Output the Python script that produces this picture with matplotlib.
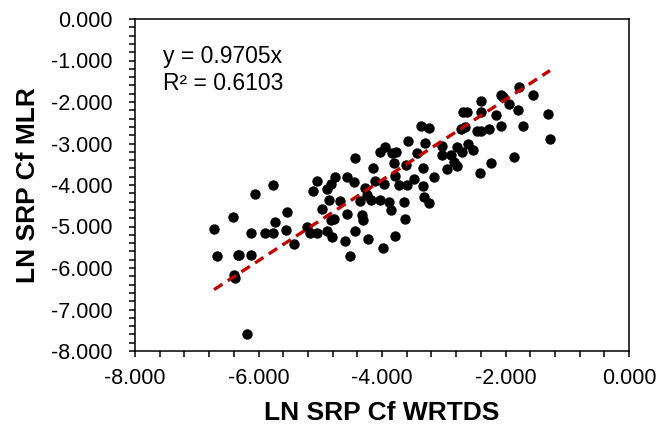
import matplotlib.pyplot as plt
from matplotlib.ticker import MultipleLocator, FormatStrFormatter

plt.rcParams['font.family'] = ['Liberation Sans', 'DejaVu Sans']

# LN SRP Cf from WRTDS (x) vs MLR (y)
wrtds = [-6.72, -6.67, -6.41, -6.34, -6.31, -6.39, -6.38, -6.19, -6.12, -6.12,
         -6.05, -5.90, -5.77, -5.76, -5.74, -5.54, -5.55, -5.43, -5.22, -5.17,
         -5.11, -5.05, -5.05, -4.97, -4.89, -4.89, -4.86, -4.83, -4.83, -4.81,
         -4.76, -4.77, -4.68, -4.60, -4.57, -4.56, -4.52, -4.45, -4.43, -4.43,
         -4.36, -4.33, -4.30, -4.27, -4.24, -4.23, -4.18, -4.14, -4.12, -4.04,
         -4.03, -3.99, -3.96, -3.95, -3.89, -3.86, -3.84, -3.80, -3.79, -3.79,
         -3.77, -3.73, -3.64, -3.62, -3.60, -3.61, -3.58, -3.48, -3.43, -3.37,
         -3.34, -3.34, -3.32, -3.30, -3.24, -3.24, -3.15, -3.03, -3.03, -2.94,
         -2.89, -2.83, -2.78, -2.78, -2.72, -2.70, -2.69, -2.63, -2.65, -2.61,
         -2.53, -2.46, -2.42, -2.40, -2.40, -2.40, -2.27, -2.23, -2.16, -2.07,
         -2.07, -2.04, -1.95, -1.86, -1.80, -1.78, -1.72, -1.56, -1.31, -1.28]
mlr = [-5.07, -5.71, -4.77, -5.68, -5.68, -6.16, -6.24, -7.58, -5.16, -5.69,
       -4.21, -5.16, -4.00, -5.16, -4.90, -4.64, -5.08, -5.43, -5.02, -5.15,
       -4.15, -3.90, -5.15, -4.59, -4.10, -5.12, -4.35, -3.97, -4.85, -5.26,
       -3.81, -4.83, -4.39, -5.36, -4.69, -3.80, -5.71, -3.92, -3.35, -5.11,
       -4.39, -4.73, -4.85, -4.07, -4.23, -5.30, -4.37, -3.60, -3.91, -4.36,
       -3.20, -5.52, -3.97, -3.08, -4.40, -4.61, -3.24, -3.48, -3.79, -5.23,
       -3.20, -3.99, -4.42, -4.82, -3.99, -3.52, -2.93, -3.85, -3.23, -2.59,
       -4.02, -3.59, -4.29, -2.98, -4.43, -2.62, -3.81, -3.05, -3.28, -3.61,
       -3.27, -3.45, -3.08, -3.54, -2.65, -3.21, -2.23, -2.23, -2.61, -3.00,
       -3.15, -2.69, -3.72, -1.98, -2.23, -2.69, -2.65, -3.47, -2.32, -2.57,
       -1.82, -1.89, -2.05, -3.32, -2.19, -1.65, -2.57, -1.84, -2.29, -2.89]
slope = 0.9705
r2 = 0.6103

fig = plt.figure(figsize=(6.62, 4.30), dpi=100)
ax = fig.add_axes([135/662, 79/430, 494/662, 332/430])

ax.scatter(wrtds, mlr, s=56, color='black', zorder=3, linewidths=0)

# trendline through origin over the data range
x0, x1 = min(wrtds), max(wrtds)
ax.plot([x0, x1], [slope*x0, slope*x1], color='#C00000', lw=2.4,
        dashes=(3.0, 1.9), zorder=4)

ax.set_xlim(-8, 0)
ax.set_ylim(-8, 0)
ax.xaxis.set_major_locator(MultipleLocator(2))
ax.xaxis.set_minor_locator(MultipleLocator(0.4))
ax.yaxis.set_major_locator(MultipleLocator(1))
ax.yaxis.set_minor_locator(MultipleLocator(0.2))
ax.xaxis.set_major_formatter(FormatStrFormatter('%.3f'))
ax.yaxis.set_major_formatter(FormatStrFormatter('%.3f'))
ax.tick_params(axis='both', which='both', direction='out', length=4, width=1.1,
               labelsize=15.5, color='black')
ax.tick_params(axis='x', which='major', pad=8)
ax.tick_params(axis='y', which='major', pad=12)
for sp in ax.spines.values():
    sp.set_linewidth(1.1)

ax.set_xlabel('LN SRP Cf WRTDS', fontsize=19, fontweight='bold', labelpad=9)
ax.set_ylabel('LN SRP Cf MLR', fontsize=19, fontweight='bold', labelpad=8)

ax.text(0.057, 0.886, 'y = %.4fx' % slope, transform=ax.transAxes,
        fontsize=16.5, va='center', ha='left')
ax.text(0.057, 0.807, 'R² = %.4f' % r2, transform=ax.transAxes,
        fontsize=16.5, va='center', ha='left')

fig.savefig('out.png', dpi=100)
